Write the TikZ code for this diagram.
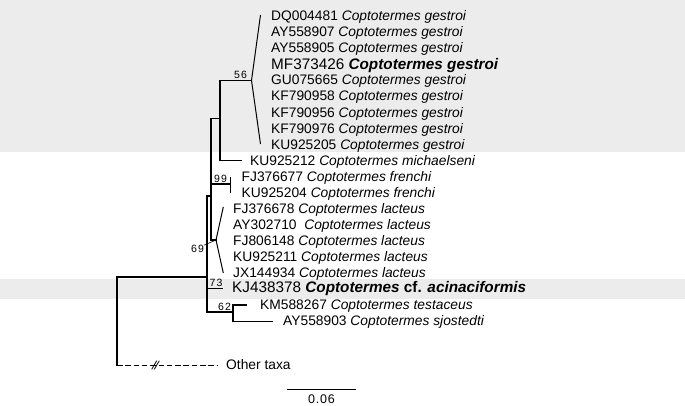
\documentclass[tikz,border=0pt]{standalone}
\usepackage{fontspec}
\setmainfont{Liberation Sans}
\usetikzlibrary{positioning,calc}
\newcommand{\Cop}[1]{\textit{Coptotermes #1}}
\tikzset{
    band/.style={fill=gray!15},
    branch/.style={line width=1.05pt, line cap=rect},
    taxon/.style={anchor=base west, inner sep=0pt, font=\fontsize{13.8}{16}\selectfont},
    focal/.style={anchor=base west, inner sep=0pt, font=\fontsize{15.3}{18}\selectfont},
    boot/.style={inner sep=0pt, font=\fontsize{10.5}{12}\selectfont\addfontfeature{LetterSpace=12}},
}

\begin{document}
\begin{tikzpicture}[x=1pt,y=-1pt]
    \useasboundingbox (0,0) rectangle (685,405);
    \fill[band] (0,0) rectangle (685,151.5);
    \fill[band] (0,278.5) rectangle (685,299);

    % taxa
    \foreach \acc/\i in {DQ004481/0,AY558907/1,AY558905/2,GU075665/4,KF790958/5,KF790956/6,KF790976/7,KU925205/8}
        \node[taxon] (g\i) at (271,{20.7+16.05*\i}) {\acc\ \Cop{gestroi}};
    \node[focal] (g3) at (271,69.8) {MF373426 \textbf{\Cop{gestroi}}};
    \node[taxon] (mic) at (250,165.2) {KU925212 \Cop{michaelseni}};
    \node[taxon] (fr1) at (241.5,181.2) {FJ376677 \Cop{frenchi}};
    \node[taxon] (fr2) at (241.5,197.3) {KU925204 \Cop{frenchi}};
    \foreach \acc/\i in {FJ376678/12,AY302710\ /13,FJ806148/14,KU925211/15,JX144934/16}
        \node[taxon] (l\i) at (233,{20.7+16.05*\i}) {\acc\ \Cop{lacteus}};
    \node[focal] (kj) at (232,292) {KJ438378 \textbf{\textit{Coptotermes} cf. \textit{acinaciformis}}};
    \node[taxon] (tes) at (260,309.6) {KM588267 \Cop{testaceus}};
    \node[taxon] (sjo) at (283,325.7) {AY558903 \Cop{sjostedti}};
    \node[taxon, anchor=west] (out) at (226,365) {Other taxa};

    % tree nodes
    \coordinate (root) at (117,277);
    \coordinate (cut) at (117,365);
    \coordinate (nC) at (207,277);
    \coordinate (nB) at (211,196);
    \coordinate (nA) at (220,118.5);
    \coordinate (gst) at (251.5,80.4);
    \coordinate (fre) at (230.5,184);
    \coordinate (lac) at (216,240);
    \coordinate (n62) at (233,312);

    % branches
    \draw[branch] (cut) -- (root) -- (nC);
    \draw[branch] (207,196) -- (207,312) -- (n62);
    \draw[branch] (207,196) -- (nB);
    \draw[branch] (211,118.5) -- (211,240) -- (lac);
    \draw[branch] (211,118.5) -- (nA);
    \draw[branch] (220,80.4) -- (220,160.7) -- (241,160.7);
    \draw[branch] (220,80.4) -- (gst);
    \draw[branch] (211,184) -- (fre);
    \draw[branch] (230.5,177.5) -- (230.5,192);
    \draw[branch] (207,288.7) -- (222,288.7);
    \draw[branch] (246,305) -| (n62) |- (272,321.2);

    % collapsed clades
    \draw[line width=1pt, line join=miter] (260.5,15) -- (gst) -- (260.5,144);
    \draw[line width=1pt, line join=miter] (223.3,207) -- (lac) -- (223.3,273);

    % outgroup, cut branch
    \draw[line width=1pt, dash pattern=on 5.5pt off 2.8pt] (cut) -- ([xshift=-8pt]out.west);
    \draw[line width=0.8pt] (151.7,369.3) -- (156.7,360.7);
    \draw[line width=0.8pt] (154.3,369.3) -- (159.3,360.7);

    % support values
    \node[boot] (b56) at (240.5,75) {56};
    \node[boot] (b99) at (220.5,178.7) {99};
    \node[boot] (b69) at (197.5,249) {69};
    \node[boot] (b73) at (216,283) {73};
    \node[boot] (b62) at (224.5,306.7) {62};
    \draw[line width=0.6pt] (b69.north east) -- (lac);

    % scale
    \coordinate (s0) at (287,389.3);
    \coordinate (s1) at (356,389.3);
    \draw[line width=1.1pt] (s0) -- (s1);
    \node[boot, anchor=base, font=\fontsize{12.5}{14}\selectfont\addfontfeature{LetterSpace=6}] (sc) at (321.5,403.8) {0.06};
\end{tikzpicture}
\end{document}
